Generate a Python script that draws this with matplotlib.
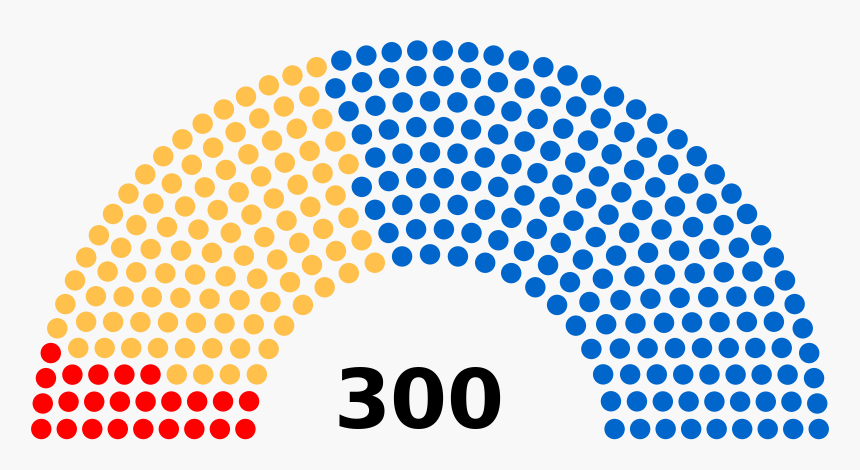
import math
import matplotlib
matplotlib.use("Agg")
import matplotlib.pyplot as plt
from matplotlib.patches import Circle
from matplotlib.collections import PatchCollection

# seats per party, listed left to right around the arch
party_names = ["Red", "Yellow", "Blue"]
party_seats = [24, 100, 176]
party_colors = ["#ff0000", "#ffc04c", "#0066cc"]
total_label = "300"

# cumulative seat counts that fit in 1, 2, 3 ... rows
row_totals = [3, 15, 33, 61, 95, 138, 189, 247, 313, 388, 469, 559, 657, 762]


def seat_positions(n_seats):
    rows = next(i + 1 for i, t in enumerate(row_totals) if t >= n_seats)
    radius = 0.4 / rows
    spots = []
    for i in range(1, rows):
        R = (3.0 * rows + 4.0 * i - 2.0) / (4.0 * rows)
        J = int(n_seats / row_totals[rows - 1] * math.pi
                / (2 * math.asin(2.0 / (3.0 * rows + 4.0 * i - 2.0))))
        a0 = math.sin(radius / R)
        for j in range(J):
            angle = j * (math.pi - 2.0 * a0) / (J - 1.0) + a0
            spots.append((angle, R * math.cos(angle), R * math.sin(angle)))
    # outer row takes whatever is left
    J = n_seats - len(spots)
    R = (7.0 * rows - 2.0) / (4.0 * rows)
    a0 = math.sin(radius / R)
    for j in range(J):
        angle = j * (math.pi - 2.0 * a0) / (J - 1.0) + a0
        spots.append((angle, R * math.cos(angle), R * math.sin(angle)))
    spots.sort(reverse=True)
    return spots, radius


spots, radius = seat_positions(sum(party_seats))

bg = "#f8f8f8"
fig = plt.figure(figsize=(8.6, 4.7), dpi=100, facecolor=bg)
ax = fig.add_axes([0, 0, 1, 1])
ax.set_facecolor(bg)

circles = []
colors = []
k = 0
for seats, color in zip(party_seats, party_colors):
    for _ in range(seats):
        _, x, y = spots[k]
        circles.append(Circle((x, y), radius))
        colors.append(color)
        k += 1
ax.add_collection(PatchCollection(circles, facecolors=colors, edgecolors="none"))

ax.text(-0.046, 0.049, total_label, ha="center", va="baseline",
        fontsize=59, fontweight="bold", family="DejaVu Sans", color="black")

scale = 229.5  # pixels per unit
cy = 439.2     # arch centre, pixels from top
ax.set_xlim(-430 / scale, 430 / scale)
ax.set_ylim(-(470 - cy) / scale, cy / scale)
ax.set_aspect("equal")
ax.axis("off")

fig.savefig("out.png", dpi=100, facecolor=fig.get_facecolor())
